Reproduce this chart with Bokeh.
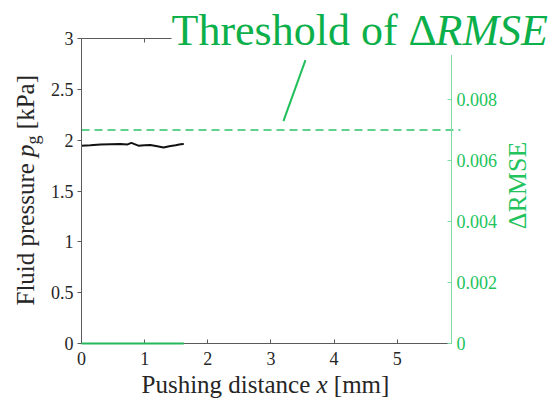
import numpy as np
from bokeh.plotting import figure
from bokeh.models import Range1d, LinearAxis, FixedTicker, CustomJSTickFormatter, Label
from bokeh.embed import file_html
from bokeh.resources import INLINE

# ---------------- data ----------------
push_x = [0.00, 0.14, 0.30, 0.46, 0.61, 0.73, 0.79, 0.90, 1.00, 1.09, 1.20, 1.30, 1.39, 1.49, 1.57, 1.62]
pressure = [1.946, 1.950, 1.957, 1.960, 1.962, 1.958, 1.973, 1.946, 1.950, 1.953, 1.941, 1.928, 1.941, 1.950, 1.960, 1.962]
delta_rmse = [0.0, 0.0, 0.0, 0.0, 0.0, 0.0, 0.0, 0.0, 0.0, 0.0, 0.0, 0.0, 0.0, 0.0, 0.0, 0.0]
rmse_threshold = 0.007
threshold_x = [0.0, 6.0]
pointer_x = [3.198, 3.547]
pointer_y = [0.00729, 0.00929]
x_ticks = [0, 1, 2, 3, 4, 5]
y_ticks = [0, 0.5, 1, 1.5, 2, 2.5, 3]
rmse_ticks = [0, 0.002, 0.004, 0.006, 0.008]
X_MAX, Y_MAX, R_MAX = 5.86, 3.0, 0.01

# ---------------- layout ----------------
W, H = 555, 408
L, R, T, B = 81, 104, 38, 65          # plot-box margins in pixels
FW, FH = W - L - R, H - T - B
FONT = "Liberation Serif"
GREEN_T = "#0cb04a"
GREEN = "#22c35c"
GREEN_AX = "#7ddc9f"
DARK = "#262626"
AXC = "#5a5a5a"
K = 0.32   # baseline correction (fraction of font size)

def fx(px):
    return (px - L) / FW * X_MAX

def fy(py):
    return (T + FH - py) / FH * Y_MAX

def fr(py):
    return (T + FH - py) / FH * R_MAX

p = figure(width=W, height=H, x_range=Range1d(fx(0), fx(W)), y_range=Range1d(fy(H), fy(0)),
           output_backend="svg", toolbar_location=None,
           x_axis_location=None, y_axis_location=None,
           min_border=0, min_border_left=0, min_border_right=0,
           min_border_top=0, min_border_bottom=0)
p.extra_y_ranges = {"rmse": Range1d(fr(H), fr(0))}
p.grid.visible = False
p.outline_line_color = None
p.background_fill_color = "white"
p.border_fill_color = "white"

fmt = CustomJSTickFormatter(code="return String(Math.round(tick*1000)/1000)")

def style_axis(ax, color, label_color, tin, tout, standoff):
    ax.axis_line_color = color
    ax.major_tick_line_color = color
    ax.minor_tick_line_color = None
    ax.major_tick_in = tin
    ax.major_tick_out = tout
    ax.major_label_standoff = standoff
    ax.major_label_text_font = FONT
    ax.major_label_text_font_size = "18px"
    ax.major_label_text_color = label_color

xa = LinearAxis(ticker=FixedTicker(ticks=x_ticks), formatter=fmt, fixed_location=0.0,
                bounds=(0, X_MAX))
style_axis(xa, AXC, DARK, 4, 0, 8)
p.add_layout(xa, "below")

ya = LinearAxis(ticker=FixedTicker(ticks=y_ticks), formatter=fmt, fixed_location=0.0,
                bounds=(0, Y_MAX))
style_axis(ya, AXC, DARK, 0, 4, 4)
p.add_layout(ya, "left")

top = LinearAxis(ticker=FixedTicker(ticks=x_ticks), formatter=CustomJSTickFormatter(code="return ''"),
                 fixed_location=Y_MAX, bounds=(0, X_MAX))
style_axis(top, AXC, DARK, 4, 0, 2)
p.add_layout(top, "above")

ra = LinearAxis(y_range_name="rmse", ticker=FixedTicker(ticks=rmse_ticks), formatter=fmt,
                fixed_location=X_MAX, bounds=(0, R_MAX))
style_axis(ra, GREEN_AX, GREEN, 4, 0, 5)
p.add_layout(ra, "right")

# ---------------- data marks ----------------
p.line(push_x, pressure, line_color="#111111", line_width=2)
zl = p.line(push_x, delta_rmse, y_range_name="rmse", line_color="#25b85a", line_width=2)
zl.level = "overlay"
p.line(threshold_x, [rmse_threshold, rmse_threshold], y_range_name="rmse",
       line_color="#2ec26a", line_width=1.5, line_dash="8 5")
p.line(pointer_x, pointer_y, y_range_name="rmse", line_color="#1fbf5a", line_width=2)

# ---------------- text ----------------
def lab(x, y, text, size, color=DARK, style="normal", angle=0.0, align="left", bg=None):
    p.add_layout(Label(x=x, y=y, text=text, text_font=FONT, text_font_size=f"{size}px",
                       text_font_style=style, text_color=color, angle=angle,
                       text_align=align, text_baseline="alphabetic",
                       background_fill_color=bg))

# y-axis label (rotated), Times metrics for offsets
s = 25
y0 = 305
bx = 33 - K * s
lab(fx(bx), fy(y0), "Fluid pressure", s, angle=np.pi / 2)
y1 = y0 - 5.944 * s
lab(fx(bx), fy(y1), "p", s, style="italic", angle=np.pi / 2)
y2 = y1 - 0.5 * s
lab(fx(38 - K * 18), fy(y2), "g", 18, angle=np.pi / 2)
y3 = y2 - 0.5 * 18 - 0.25 * s
lab(fx(bx), fy(y3), "[kPa]", s, angle=np.pi / 2)

# x-axis label
xs0 = 141
base = 392 - K * s
lab(fx(xs0), fy(base), "Pushing distance", s)
xs1 = xs0 + 7.0 * s
lab(fx(xs1), fy(base), "x", s, style="italic")
xs2 = xs1 + 0.694 * s
lab(fx(xs2), fy(base), "[mm]", s)

# right axis label
lab(fx(525 - K * 26), fy(185), "ΔRMSE", 26, color=GREEN, angle=np.pi / 2, align="center")

# title annotation
ts = 44
tx0 = 171
tb = 44 - K * ts
lab(fx(tx0), fy(tb), "Threshold of Δ", ts, color=GREEN_T, bg="white")
lab(fx(tx0 + 6.0 * ts), fy(tb), "RMSE", ts, color=GREEN_T, style="italic", bg="white")

open("out.html", "w").write(file_html(p, INLINE))
